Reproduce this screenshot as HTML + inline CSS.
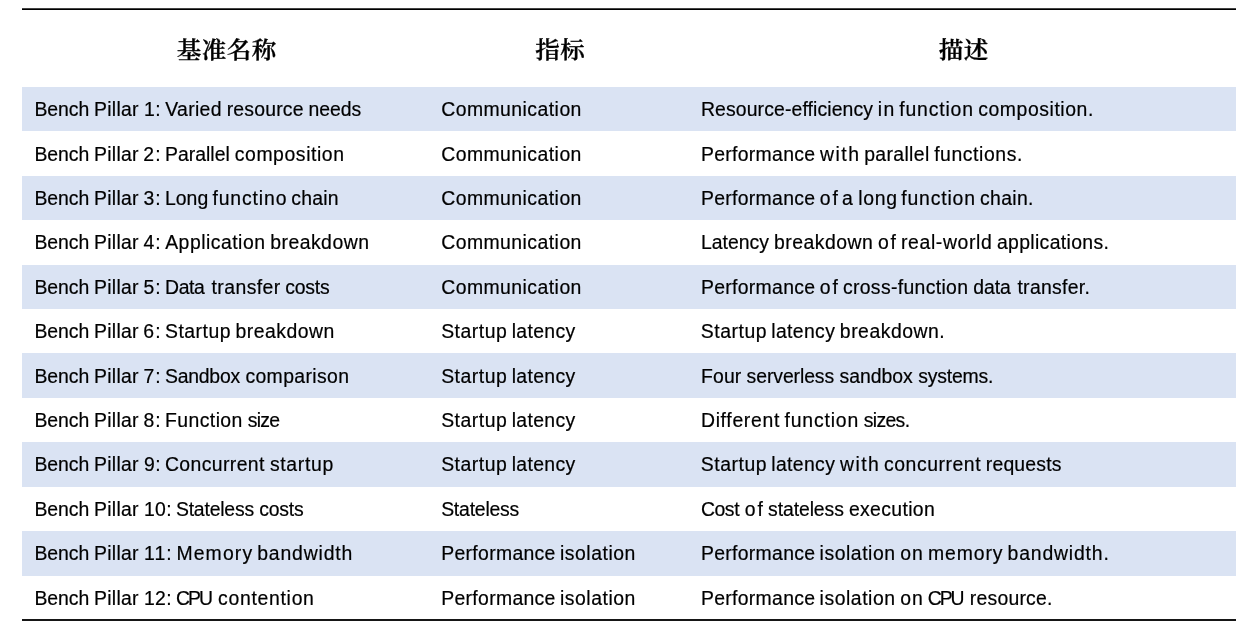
<!DOCTYPE html>
<html lang="zh-CN">
<head>
<meta charset="utf-8">
<title>Bench Pillars</title>
<style>
html,body{margin:0;padding:0;background:#fff}
body{width:1253px;height:630px;position:relative;overflow:hidden;color:#000}
.tbl{position:absolute;left:22px;top:8px;width:1214px;height:613px}
.rule{position:absolute;left:0;width:1214px;height:2px;background:#000}
.rule.top{top:0;background:linear-gradient(#444 50%,#000 50%)}
.rule.bot{top:611px;background:#161616}
.hd{position:absolute;left:0;top:4.2px;width:1214px;height:77px;line-height:77px;
  font-family:"Liberation Serif","Noto Serif CJK SC",serif;font-weight:600;font-size:22.8px;letter-spacing:.4px;-webkit-text-stroke:.3px #000}
.hd span{position:absolute;top:0;text-align:center;white-space:nowrap;text-indent:.4px;transform:translateY(.3px) scaleX(1.075)}
.h1{left:1.4px;width:407px}.h2{left:408.4px;width:260px}.h3{left:668.4px;width:547px}
.row{position:absolute;left:0;width:1214px;white-space:nowrap;line-height:44px;
  font-family:"Liberation Sans",sans-serif;font-size:19.4px;font-variant-ligatures:none;-webkit-text-stroke:.2px #000}
.row.alt{background:#dae3f3}
.c{position:absolute;top:0;white-space:nowrap}
.row.dn .c{top:1px}
.c1{left:12.6px}.c2{left:419.4px}.c3{left:679.1px}
.w{display:inline-block;white-space:pre}
</style>
</head>
<body>
<div class="tbl">
<div class="rule top"></div>
<div class="hd"><span class="h1">基准名称</span><span class="h2">指标</span><span class="h3">描述</span></div>
<div class="row alt" style="top:79px;height:44px">
  <div class="c c1"><span class="w" style="margin-left:-.15px;width:59.66px;letter-spacing:-.06px">Bench </span><span class="w" style="width:49.82px;letter-spacing:.26px">Pillar </span><span class="w" style="width:21.28px;letter-spacing:.53px">1: </span><span class="w" style="width:61.48px;letter-spacing:.33px">Varied </span><span class="w" style="width:81.78px;letter-spacing:.2px">resource </span><span class="w">needs</span></div>
  <div class="c c2"><span class="w" style="margin-left:-.23px;letter-spacing:.46px">Communication</span></div>
  <div class="c c3"><span class="w" style="margin-left:-.15px;width:176.76px;letter-spacing:.12px">Resource-efficiency </span><span class="w" style="width:21.54px;letter-spacing:1.38px">in </span><span class="w" style="width:78.92px;letter-spacing:.84px">function </span><span class="w" style="letter-spacing:.58px">composition.</span></div>
</div>
<div class="row dn" style="top:123px;height:45px">
  <div class="c c1"><span class="w" style="margin-left:-.15px;width:59.66px;letter-spacing:-.06px">Bench </span><span class="w" style="width:49.1px;letter-spacing:.26px">Pillar </span><span class="w" style="width:21.84px;letter-spacing:1.25px">2: </span><span class="w" style="width:69.73px;letter-spacing:.01px">Parallel </span><span class="w" style="letter-spacing:.58px">composition</span></div>
  <div class="c c2"><span class="w" style="margin-left:-.23px;letter-spacing:.46px">Communication</span></div>
  <div class="c c3"><span class="w" style="margin-left:-.15px;width:119.13px;letter-spacing:.31px">Performance </span><span class="w" style="width:44.05px;letter-spacing:1.46px">with </span><span class="w" style="width:70.01px;letter-spacing:.37px">parallel </span><span class="w" style="letter-spacing:.58px">functions.</span></div>
</div>
<div class="row alt" style="top:168px;height:44px">
  <div class="c c1"><span class="w" style="margin-left:-.15px;width:59.66px;letter-spacing:-.06px">Bench </span><span class="w" style="width:49.4px;letter-spacing:.26px">Pillar </span><span class="w" style="width:21.54px;letter-spacing:.95px">3: </span><span class="w" style="width:47.39px;letter-spacing:.01px">Long </span><span class="w" style="width:78.9px;letter-spacing:.88px">functino </span><span class="w" style="letter-spacing:.23px">chain</span></div>
  <div class="c c2"><span class="w" style="margin-left:-.23px;letter-spacing:.46px">Communication</span></div>
  <div class="c c3"><span class="w" style="margin-left:-.15px;width:118.9px;letter-spacing:.31px">Performance </span><span class="w" style="width:22.15px;letter-spacing:1.97px">of </span><span class="w" style="width:16.32px">a </span><span class="w" style="width:42.93px;letter-spacing:.68px">long </span><span class="w" style="width:78.9px;letter-spacing:.83px">function </span><span class="w" style="letter-spacing:.3px">chain.</span></div>
</div>
<div class="row" style="top:212px;height:45px">
  <div class="c c1"><span class="w" style="margin-left:-.15px;width:59.66px;letter-spacing:-.06px">Bench </span><span class="w" style="width:49.36px;letter-spacing:.26px">Pillar </span><span class="w" style="width:21.73px;letter-spacing:.98px">4: </span><span class="w" style="width:104.98px;letter-spacing:.49px">Application </span><span class="w" style="letter-spacing:.49px">breakdown</span></div>
  <div class="c c2"><span class="w" style="margin-left:-.23px;letter-spacing:.46px">Communication</span></div>
  <div class="c c3"><span class="w" style="margin-left:-.15px;width:72.97px">Latency </span><span class="w" style="width:103.96px;letter-spacing:.49px">breakdown </span><span class="w" style="width:23.11px;letter-spacing:1.96px">of </span><span class="w" style="width:95.93px;letter-spacing:.63px">real-world </span><span class="w" style="letter-spacing:.35px">applications.</span></div>
</div>
<div class="row alt" style="top:257px;height:44px">
  <div class="c c1"><span class="w" style="margin-left:-.15px;width:59.66px;letter-spacing:-.06px">Bench </span><span class="w" style="width:49.4px;letter-spacing:.26px">Pillar </span><span class="w" style="width:21.54px;letter-spacing:.95px">5: </span><span class="w" style="width:46.48px;letter-spacing:-.37px">Data </span><span class="w" style="width:73.78px;letter-spacing:.43px">transfer </span><span class="w" style="letter-spacing:-.21px">costs</span></div>
  <div class="c c2"><span class="w" style="margin-left:-.23px;letter-spacing:.46px">Communication</span></div>
  <div class="c c3"><span class="w" style="margin-left:-.15px;width:118.9px;letter-spacing:.31px">Performance </span><span class="w" style="width:23.05px;letter-spacing:1.97px">of </span><span class="w" style="width:130.25px;letter-spacing:.34px">cross-function </span><span class="w" style="width:44.3px;letter-spacing:-.02px">data </span><span class="w" style="letter-spacing:.3px">transfer.</span></div>
</div>
<div class="row" style="top:301px;height:44px">
  <div class="c c1"><span class="w" style="margin-left:-.15px;width:59.66px;letter-spacing:-.06px">Bench </span><span class="w" style="width:49.1px;letter-spacing:.26px">Pillar </span><span class="w" style="width:21.73px;letter-spacing:1.25px">6: </span><span class="w" style="width:70.54px;letter-spacing:.53px">Startup </span><span class="w" style="letter-spacing:.49px">breakdown</span></div>
  <div class="c c2"><span class="w" style="margin-left:-.27px;width:70.52px;letter-spacing:.53px">Startup </span><span class="w" style="letter-spacing:.34px">latency</span></div>
  <div class="c c3"><span class="w" style="margin-left:-.27px;width:70.52px;letter-spacing:.53px">Startup </span><span class="w" style="width:68.52px;letter-spacing:.34px">latency </span><span class="w" style="letter-spacing:.51px">breakdown.</span></div>
</div>
<div class="row alt dn" style="top:345px;height:45px">
  <div class="c c1"><span class="w" style="margin-left:-.15px;width:59.66px;letter-spacing:-.06px">Bench </span><span class="w" style="width:49.44px;letter-spacing:.26px">Pillar </span><span class="w" style="width:21.39px;letter-spacing:.91px">7: </span><span class="w" style="width:80.48px;letter-spacing:-.22px">Sandbox </span><span class="w" style="letter-spacing:.37px">comparison</span></div>
  <div class="c c2"><span class="w" style="margin-left:-.27px;width:70.52px;letter-spacing:.53px">Startup </span><span class="w" style="letter-spacing:.34px">latency</span></div>
  <div class="c c3"><span class="w" style="margin-left:-.15px;width:45.66px;letter-spacing:.16px">Four </span><span class="w" style="width:92.94px;letter-spacing:-.09px">serverless </span><span class="w" style="width:78.64px;letter-spacing:-.03px">sandbox </span><span class="w" style="letter-spacing:-.18px">systems.</span></div>
</div>
<div class="row" style="top:390px;height:44px">
  <div class="c c1"><span class="w" style="margin-left:-.15px;width:59.66px;letter-spacing:-.06px">Bench </span><span class="w" style="width:49.4px;letter-spacing:.26px">Pillar </span><span class="w" style="width:21.54px;letter-spacing:.95px">8: </span><span class="w" style="width:82.73px;letter-spacing:.42px">Function </span><span class="w" style="letter-spacing:-.75px">size</span></div>
  <div class="c c2"><span class="w" style="margin-left:-.27px;width:70.52px;letter-spacing:.53px">Startup </span><span class="w" style="letter-spacing:.34px">latency</span></div>
  <div class="c c3"><span class="w" style="margin-left:-.15px;width:83.47px;letter-spacing:.68px">Different </span><span class="w" style="width:79.22px;letter-spacing:.84px">function </span><span class="w" style="letter-spacing:-.63px">sizes.</span></div>
</div>
<div class="row alt" style="top:434px;height:45px">
  <div class="c c1"><span class="w" style="margin-left:-.15px;width:59.66px;letter-spacing:-.06px">Bench </span><span class="w" style="width:49.78px;letter-spacing:.26px">Pillar </span><span class="w" style="width:21.08px;letter-spacing:.57px">9: </span><span class="w" style="width:104.93px;letter-spacing:.39px">Concurrent </span><span class="w" style="letter-spacing:.67px">startup</span></div>
  <div class="c c2"><span class="w" style="margin-left:-.27px;width:70.52px;letter-spacing:.53px">Startup </span><span class="w" style="letter-spacing:.34px">latency</span></div>
  <div class="c c3"><span class="w" style="margin-left:-.27px;width:70.52px;letter-spacing:.53px">Startup </span><span class="w" style="width:68.67px;letter-spacing:.34px">latency </span><span class="w" style="width:43.97px;letter-spacing:1.45px">with </span><span class="w" style="width:101.82px;letter-spacing:.55px">concurrent </span><span class="w" style="letter-spacing:.18px">requests</span></div>
</div>
<div class="row" style="top:479px;height:44px">
  <div class="c c1"><span class="w" style="margin-left:-.15px;width:59.66px;letter-spacing:-.06px">Bench </span><span class="w" style="width:49.82px;letter-spacing:.26px">Pillar </span><span class="w" style="width:32.04px;letter-spacing:.39px">10: </span><span class="w" style="width:83.25px;letter-spacing:-.2px">Stateless </span><span class="w" style="letter-spacing:-.21px">costs</span></div>
  <div class="c c2"><span class="w" style="margin-left:-.27px;letter-spacing:-.2px">Stateless</span></div>
  <div class="c c3"><span class="w" style="margin-left:-.23px;width:43.87px;letter-spacing:-.4px">Cost </span><span class="w" style="width:23.33px;letter-spacing:1.96px">of </span><span class="w" style="width:80.87px;letter-spacing:-.09px">stateless </span><span class="w" style="letter-spacing:.35px">execution</span></div>
</div>
<div class="row alt" style="top:523px;height:45px">
  <div class="c c1"><span class="w" style="margin-left:-.15px;width:59.66px;letter-spacing:-.06px">Bench </span><span class="w" style="width:49.82px;letter-spacing:.26px">Pillar </span><span class="w" style="width:32.49px;letter-spacing:1.11px">11: </span><span class="w" style="width:80.74px;letter-spacing:1.13px">Memory </span><span class="w" style="letter-spacing:.84px">bandwidth</span></div>
  <div class="c c2"><span class="w" style="margin-left:-.15px;width:118.63px;letter-spacing:.31px">Performance </span><span class="w" style="letter-spacing:.54px">isolation</span></div>
  <div class="c c3"><span class="w" style="margin-left:-.15px;width:118.63px;letter-spacing:.31px">Performance </span><span class="w" style="width:80.59px;letter-spacing:.54px">isolation </span><span class="w" style="width:27.9px;letter-spacing:1.11px">on </span><span class="w" style="width:79.55px;letter-spacing:.89px">memory </span><span class="w" style="letter-spacing:.82px">bandwidth.</span></div>
</div>
<div class="row" style="top:568px;height:44px">
  <div class="c c1"><span class="w" style="margin-left:-.15px;width:59.66px;letter-spacing:-.06px">Bench </span><span class="w" style="width:49.82px;letter-spacing:.26px">Pillar </span><span class="w" style="width:32.08px;letter-spacing:.39px">12: </span><span class="w" style="width:42.04px;letter-spacing:-2px">CPU </span><span class="w" style="letter-spacing:.71px">contention</span></div>
  <div class="c c2"><span class="w" style="margin-left:-.15px;width:118.63px;letter-spacing:.31px">Performance </span><span class="w" style="letter-spacing:.54px">isolation</span></div>
  <div class="c c3"><span class="w" style="margin-left:-.15px;width:118.63px;letter-spacing:.31px">Performance </span><span class="w" style="width:80.59px;letter-spacing:.54px">isolation </span><span class="w" style="width:27.52px;letter-spacing:1.11px">on </span><span class="w" style="width:42.11px;letter-spacing:-2px">CPU </span><span class="w" style="letter-spacing:.22px">resource.</span></div>
</div>
<div class="rule bot"></div>
</div>
</body>
</html>
